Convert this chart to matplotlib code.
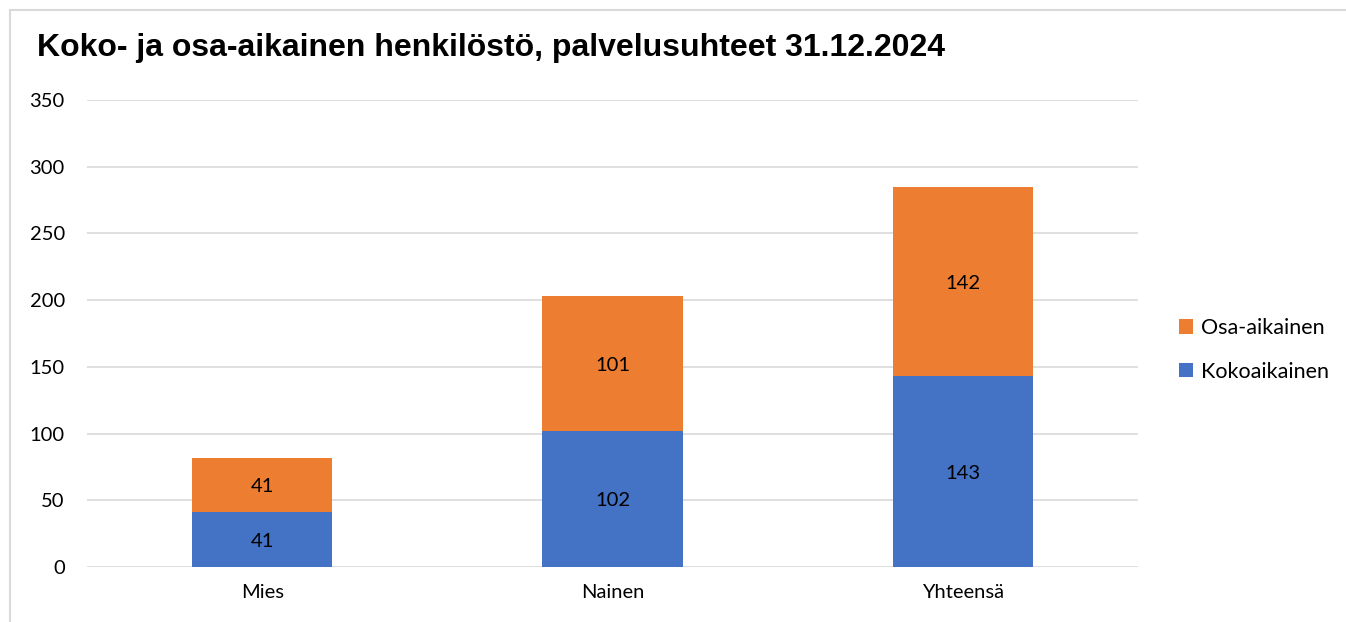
import numpy as np
import matplotlib.pyplot as plt
from matplotlib.lines import Line2D

categories = ["Mies", "Nainen", "Yhteensä"]
kokoaikainen = [41, 102, 143]
osa_aikainen = [41, 101, 142]

blue = "#4472C4"
orange = "#ED7D31"
label_font = ["Lato", "DejaVu Sans"]

fig = plt.figure(figsize=(13.46, 6.22), dpi=100)
fig.patch.set_facecolor("white")
# frame of the chart area: only top and left edges are visible
fx, fy = 10 / 1346, 1 - 9.5 / 622
fig.lines.append(Line2D([fx, 1.0], [fy, fy], transform=fig.transFigure,
                        color="#D9D9D9", linewidth=1.5))
fig.lines.append(Line2D([fx, fx], [0.0, fy], transform=fig.transFigure,
                        color="#D9D9D9", linewidth=1.5))

ax = fig.add_axes([87 / 1346, 1 - 567 / 622, 1051 / 1346, 467 / 622])
x = np.arange(len(categories))
b1 = ax.bar(x, kokoaikainen, width=0.4, color=blue, label="Kokoaikainen", zorder=3)
b2 = ax.bar(x, osa_aikainen, width=0.4, bottom=kokoaikainen, color=orange,
            label="Osa-aikainen", zorder=3)

for bars, vals, base in [(b1, kokoaikainen, [0, 0, 0]), (b2, osa_aikainen, kokoaikainen)]:
    for rect, v, b in zip(bars, vals, base):
        ax.text(rect.get_x() + rect.get_width() / 2, b + v / 2 - 1.5, str(v),
                ha="center", va="center", fontsize=14.5, family=label_font,
                color="#000000", zorder=4)

ax.set_xlim(-0.5, 2.5)
ax.set_ylim(0, 350)
ax.set_yticks(range(0, 351, 50))
ax.set_xticks(x)
ax.set_xticklabels(categories)
ax.yaxis.grid(True, color="#D9D9D9", linewidth=1.2, zorder=0)
ax.tick_params(length=0, labelsize=14.5, pad=12)
ax.tick_params(axis="y", pad=16)
for lab in ax.get_xticklabels() + ax.get_yticklabels():
    lab.set_family(label_font)
    lab.set_color("#000000")
for s in ax.spines.values():
    s.set_visible(False)

handles = [b2, b1]
fig.legend(handles, ["Osa-aikainen", "Kokoaikainen"], loc="center left",
           bbox_to_anchor=(1160 / 1346, 1 - 350 / 622), frameon=False,
           prop={"family": label_font, "size": 15.5}, handlelength=0.65,
           handleheight=0.65, handletextpad=0.35, labelspacing=1.1)

fig.text(37 / 1346, 1 - 48 / 622, "Koko- ja osa-aikainen henkilöstö, palvelusuhteet 31.12.2024",
         fontsize=23, fontweight="bold", family=["Liberation Sans", "DejaVu Sans"],
         va="center", ha="left")

fig.savefig("out.png", dpi=100)
